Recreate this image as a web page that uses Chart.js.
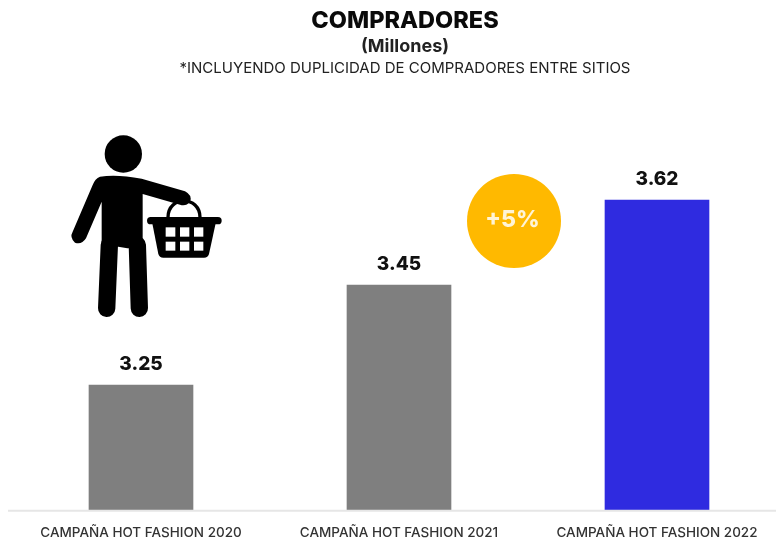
<!DOCTYPE html>
<html><head><meta charset="utf-8">
<script src="https://cdn.jsdelivr.net/npm/chart.js@4"></script>
<style>
html,body{margin:0;padding:0;width:776px;height:538px;overflow:hidden;background:#fff}
#wrap{position:relative;width:776px;height:538px;overflow:hidden}
canvas{position:absolute;left:0;top:0}
svg{position:absolute;left:50px;top:120px}
</style></head><body>
<div id="wrap">
<canvas id="c" width="810" height="561" style="width:810px;height:561px"></canvas>
<svg width="190" height="210" viewBox="0 0 570 630">
 <circle cx="220" cy="102" r="56" fill="#000"/>
 <path d="M150,170 Q200,162 275,176 L405,214 Q428,226 420,245 Q408,260 390,254 L278,222 L278,385 L232,385 L205,380 L155,385 L155,245 L108,355 Q95,375 75,368 Q58,352 68,335 L128,195 Q135,176 150,170Z" fill="#000"/>
 <path d="M178,375 L170,565 M262,375 L268,565" stroke="#000" stroke-width="52" stroke-linecap="round" fill="none"/>
 <path d="M354,292 C354,226 450,226 450,292" stroke="#000" stroke-width="10" fill="none"/>
 <path d="M302,302 L504,302" stroke="#000" stroke-width="22" stroke-linecap="round"/>
 <path d="M306,305 L498,305 L477,402 Q474,413 462,413 L340,413 Q328,413 325,402Z" fill="#000"/>
 <g fill="#fff">
  <rect x="347" y="322" width="29" height="28"/><rect x="390" y="322" width="28" height="28"/><rect x="432" y="322" width="28" height="28"/>
  <rect x="347" y="365" width="29" height="27"/><rect x="390" y="365" width="28" height="27"/><rect x="432" y="365" width="28" height="27"/>
 </g>
</svg>
</div>
<script>
const categories = ["CAMPAÑA HOT FASHION 2020","CAMPAÑA HOT FASHION 2021","CAMPAÑA HOT FASHION 2022"];
const buyers = [3.25,3.45,3.62];
const barColors = ["#7f7f7f","#7f7f7f","#2f2be0"];
const titleText = "COMPRADORES";
const subtitleText = "(Millones)";
const noteText = "*INCLUYENDO DUPLICIDAD DE COMPRADORES ENTRE SITIOS";
const badgeText = "+5%";
const FF = "Inter, 'Open Sans', sans-serif";

const extras = {
  id:"extras",
  afterDatasetsDraw(chart){
    const {ctx,scales:{x,y}} = chart;
    ctx.save();
    ctx.strokeStyle="#e6e6e6"; ctx.lineWidth=2;
    ctx.beginPath(); ctx.moveTo(8,y.bottom+0.5); ctx.lineTo(chart.width,y.bottom+0.5); ctx.stroke();
    ctx.textAlign="center"; ctx.textBaseline="middle";
    ctx.fillStyle="#111"; ctx.font="800 19px "+FF;
    chart.getDatasetMeta(0).data.forEach((b,i)=>{
      ctx.fillText(buyers[i].toFixed(2), b.x, b.y-21);
    });
    ctx.fillStyle="#222"; ctx.font="400 15px "+FF;
    ctx.fillText(noteText, chart.width/2, 68);
    ctx.fillStyle="#ffb900";
    ctx.beginPath(); ctx.arc(514,221,47,0,Math.PI*2); ctx.fill();
    ctx.fillStyle="#fff4d6"; ctx.font="800 23px "+FF;
    ctx.fillText(badgeText,512.5,220);
    ctx.restore();
  }
};

const spacerAxis = (position,width)=>({
  display:true,position,grid:{display:false,drawTicks:false},border:{display:false},
  ticks:{display:false},min:3,max:3.8,
  afterFit(scale){scale.width=width;}
});

new Chart(document.getElementById("c"),{
  type:"bar",
  data:{labels:categories,datasets:[{data:buyers,backgroundColor:barColors,barThickness:104,borderWidth:0,yAxisID:"y"}]},
  options:{
    responsive:false,animation:false,
    layout:{padding:{left:0,right:0,top:0,bottom:6}},
    plugins:{
      legend:{display:false},tooltip:{enabled:false},
      title:{display:true,text:titleText,color:"#0a0a0a",font:{family:FF,size:23.5,weight:"800",lineHeight:1.2},padding:{top:7,bottom:0}},
      subtitle:{display:true,text:subtitleText,color:"#222",font:{family:FF,size:18,weight:"700",lineHeight:1.2},padding:{top:1,bottom:52.2}}
    },
    scales:{
      x:{grid:{display:false,drawTicks:false},border:{display:false},
         ticks:{color:"#333",padding:14,font:{family:FF,size:13.5,weight:"500",lineHeight:1.25},maxRotation:0,autoSkip:false}},
      y:spacerAxis("left",12),
      yRight:spacerAxis("right",24)
    }
  },
  plugins:[extras]
});
</script>
</body></html>
